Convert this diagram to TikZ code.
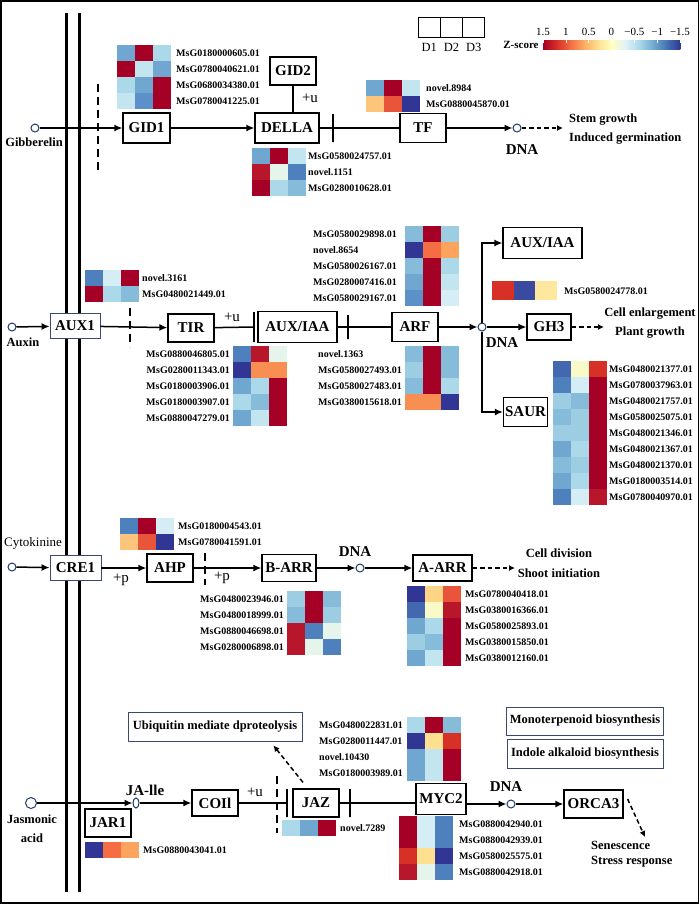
\documentclass[tikz,border=0pt]{standalone}
\usepackage{fontspec}
\setmainfont{Liberation Serif}
\usetikzlibrary{arrows.meta,shapes.geometric}

% heatmap palette
\definecolor{hmDR}{HTML}{A50026}
\definecolor{hmRD}{HTML}{B8172B}
\definecolor{hmR2}{HTML}{D73027}
\definecolor{hmOR}{HTML}{E8553B}
\definecolor{hmO2}{HTML}{F46D43}
\definecolor{hmLO}{HTML}{F98E52}
\definecolor{hmLO2}{HTML}{FCA35E}
\definecolor{hmLY}{HTML}{FDC57C}
\definecolor{hmLY2}{HTML}{FED485}
\definecolor{hmYL}{HTML}{FEE090}
\definecolor{hmYL2}{HTML}{FEE8A0}
\definecolor{hmPY}{HTML}{F8FBC8}
\definecolor{hmPG}{HTML}{E6F5EC}
\definecolor{hmPC}{HTML}{D5EEF5}
\definecolor{hmLC}{HTML}{C3E5EF}
\definecolor{hmLB}{HTML}{ABD9E9}
\definecolor{hmLB2}{HTML}{9CCDE3}
\definecolor{hmMB}{HTML}{86BBDA}
\definecolor{hmMB2}{HTML}{70A7D0}
\definecolor{hmB2}{HTML}{5C90C8}
\definecolor{hmBL}{HTML}{4F80BE}
\definecolor{hmB3}{HTML}{4468B0}
\definecolor{hmDB}{HTML}{313695}
\definecolor{hmDB2}{HTML}{3A4A9E}
% z-score bar
\definecolor{zs1}{HTML}{A50026}
\definecolor{zs2}{HTML}{D73027}
\definecolor{zs3}{HTML}{F46D43}
\definecolor{zs4}{HTML}{FDAE61}
\definecolor{zs5}{HTML}{FEE090}
\definecolor{zs6}{HTML}{FFFFBF}
\definecolor{zs7}{HTML}{E0F3F8}
\definecolor{zs8}{HTML}{ABD9E9}
\definecolor{zs9}{HTML}{74ADD1}
\definecolor{zs10}{HTML}{4575B4}
\definecolor{zs11}{HTML}{313695}
\definecolor{boxline}{HTML}{3B4A6B}
\definecolor{dnacol}{HTML}{1F3A68}

% name, x, y, label x, label anchor, rows (c1/c2/c3/label)
\newcommand{\heatmap}[6]{%
\begin{scope}[shift={(#2,#3)}]
\foreach \ca/\cb/\cc/\lab [count=\i] in {#6} {
	\fill[\ca] (0,16*\i-16) rectangle ++(18,16);
	\fill[\cb] (18,16*\i-16) rectangle ++(18,16);
	\fill[\cc] (36,16*\i-16) rectangle ++(18,16);
	\node[genelab, anchor=#5] (#1-\i) at (#4,16*\i-8) {\lab};
}
\end{scope}}

\begin{document}
\begin{tikzpicture}[x = 1pt, y = -1pt,
	box/.style = {draw, line width = 1.2pt, fill = white, inner sep = 3pt, minimum width = 46pt, minimum height = 28pt, font = {\bfseries\fontsize{15}{15}\selectfont}},
	membox/.style = {box, draw = boxline, line width = 0.9pt},
	infobox/.style = {draw = boxline, line width = 0.9pt, fill = white, font = {\bfseries\fontsize{12.5}{12.5}\selectfont}},
	link/.style = {line width = 1.5pt},
	act/.style = {link, -{Latex[length = 8pt, width = 7pt]}},
	dashact/.style = {link, dash pattern = on 4.5pt off 3pt, -{Latex[length = 6pt, width = 6pt]}},
	memb/.style = {line width = 2pt, dash pattern = on 8pt off 5pt},
	tbar/.style = {draw, line width = 1.5pt, inner sep = 0pt, minimum width = 0pt, minimum height = 28pt},
	dna/.style = {circle, draw = dnacol, line width = 1pt, fill = white, inner sep = 0pt, minimum size = 8pt},
	genelab/.style = {inner sep = 0pt, font = {\bfseries\fontsize{10}{10}\selectfont}},
	note/.style = {inner sep = 0pt, font = {\bfseries\fontsize{12.5}{19}\selectfont}},
	dnalab/.style = {inner sep = 0pt, font = {\bfseries\fontsize{15}{15}\selectfont}},
	mod/.style = {inner sep = 0pt, font = {\fontsize{15}{15}\selectfont}},
	ticklab/.style = {inner sep = 0pt, font = {\fontsize{11}{11}\selectfont}}]
\useasboundingbox (0,0) rectangle (700,906);
\draw[line width = 1.5pt] (1,1) rectangle (698.5,903);

% cell membrane
\draw[line width = 3pt] (66,13) -- (66,892);
\draw[line width = 3pt] (79,13) -- (79,892);

% legend
\foreach \d [count=\k] in {D1, D2, D3} {
	\node[draw, line width = 1pt, minimum width = 22.3pt, minimum height = 20pt, inner sep = 0pt] (leg\k) at ({418+22.3*\k-11.15},27) {};
	\node[inner sep = 0pt, font = {\fontsize{12.5}{12.5}\selectfont}] (legl\k) at ({418+22.3*\k-11.15},47) {\d};
}
\foreach \ca/\cb [count=\i] in {zs1/zs2, zs2/zs3, zs3/zs4, zs4/zs5, zs5/zs6, zs6/zs7, zs7/zs8, zs8/zs9, zs9/zs10, zs10/zs11}
	\shade[left color = \ca, right color = \cb] ({543+13.7*(\i-1)},40) rectangle ++(14,9);
\foreach \t [count=\k from 0] in {1.5, 1, 0.5, 0, −0.5, −1, −1.5} {
	\draw[white, line width = 0.6pt] ({543+22.83*\k},40) -- ++(0,2.5);
	\node[ticklab] (tick\k) at ({543+22.83*\k},32) {\t};
}
\node[inner sep = 0pt, font = {\bfseries\fontsize{11}{11}\selectfont}] (zlab) at (521,45) {Z-score};

% Gibberelin
\node[dna] (sig1) at (35,128) {};
\node[note] (gib) at (34,142) {Gibberelin};
\node[box, minimum width = 47pt, minimum height = 30pt] (GID1) at (146.5,128) {GID1};
\node[box, minimum width = 64pt, minimum height = 30pt] (DELLA) at (287,128) {DELLA};
\node[box] (GID2) at (293,71) {GID2};
\node[box, minimum height = 29pt] (TF) at (423,128) {TF};
\node[dna] (dna1) at (517,128) {};
\coordinate (out1) at (563,128);
\node[dnalab] (dnal1) at (522,150) {DNA};
\node[note, anchor = west, align = left] (res1) at (569,129.5) {Stem growth \\ Induced germination};
\node[mod] (u1) at (310,98) {+u};
\node[tbar] (bar1) at (333,128) {};

\draw[memb] (98,84) -- (98,172);
\draw[act] (sig1) -- (GID1);
\draw[act] (GID1) -- (DELLA);
\draw[link] (GID2.south) -- (GID2.south |- DELLA.north);
\draw[link] (DELLA) -- (TF);
\draw[act] (TF) -- (dna1);
\draw[dashact] (dna1) -- (out1);

\heatmap{gid1}{117}{45}{59}{west}{hmMB2/hmDR/hmLB/MsG0180000605.01,
	hmDR/hmLC/hmMB2/MsG0780040621.01,
	hmLB/hmMB2/hmDR/MsG0680034380.01,
	hmLC/hmB2/hmDR/MsG0780041225.01}
\heatmap{della}{252}{148}{56}{west}{hmMB2/hmDR/hmLC/MsG0580024757.01,
	hmRD/hmPG/hmBL/novel.1151,
	hmDR/hmLB/hmMB/MsG0280010628.01}
\heatmap{tf}{366}{80}{60}{west}{hmMB2/hmDR/hmLC/novel.8984,
	hmLY/hmOR/hmDB/MsG0880045870.01}

% Auxin
\node[dna] (sig2) at (12,327) {};
\node[note] (aux) at (23,342) {Auxin};
\node[membox, minimum width = 50pt, minimum height = 25pt] (AUX1) at (75,326) {AUX1};
\node[box] (TIR) at (191,328) {TIR};
\node[box, minimum width = 79pt, minimum height = 31pt] (AUXIAA) at (297.5,327) {AUX/IAA};
\node[box, minimum height = 29pt] (ARF) at (415,327) {ARF};
\node[dna] (dna2) at (482,327) {};
\node[box, minimum width = 79pt, minimum height = 31pt] (AUXIAA2) at (542.5,243) {AUX/IAA};
\node[box, minimum width = 44pt, minimum height = 26pt] (GH3) at (549,327) {GH3};
\node[box, minimum width = 44pt, minimum height = 29pt, inner xsep = 1.5pt] (SAUR) at (525.5,412) {SAUR};
\coordinate (out2) at (604,327);
\node[dnalab] (dnal2) at (502,343) {DNA};
\node[note, align = center] (res2) at (650,323) {Cell enlargement \\ Plant growth};
\node[mod] (u2) at (232,317) {+u};
\node[tbar, minimum height = 30pt] (bar2) at (254,327) {};
\node[tbar, minimum height = 24pt] (bar3) at (348,327) {};

\draw[memb] (130,308) -- (130,347);
\draw[act] (sig2) -- (AUX1);
\draw[act] (AUX1) -- (TIR);
\draw[link] (TIR) -- (bar2);
\draw[link] (AUXIAA) -- (ARF);
\draw[act] (ARF) -- (dna2);
\draw[act] (dna2) -- (GH3);
\draw[act] (dna2) |- (AUXIAA2);
\draw[act] (dna2) |- (SAUR);
\draw[dashact] (GH3) -- (out2);

\heatmap{aux1}{85}{270}{57}{west}{hmBL/hmPC/hmDR/novel.3161,
	hmDR/hmLB/hmMB/MsG0480021449.01}
\heatmap{tir}{233}{346}{-3}{east}{hmBL/hmRD/hmPG/MsG0880046805.01,
	hmDB/hmLO/hmLO/MsG0280011343.01,
	hmMB2/hmLB/hmDR/MsG0180003906.01,
	hmLB/hmMB/hmDR/MsG0180003907.01,
	hmMB2/hmLC/hmDR/MsG0880047279.01}
\heatmap{arfa}{405}{226}{-92}{west}{hmMB/hmDR/hmLB2/MsG0580029898.01,
	hmDB/hmO2/hmLO2/novel.8654,
	hmMB/hmDR/hmLB/MsG0580026167.01,
	hmMB2/hmDR/hmLC/MsG0280007416.01,
	hmB2/hmDR/hmPC/MsG0580029167.01}
\heatmap{arfb}{405}{346}{-87}{west}{hmMB/hmDR/hmMB/novel.1363,
	hmLB2/hmDR/hmMB/MsG0580027493.01,
	hmMB/hmDR/hmLB/MsG0580027483.01,
	hmLO/hmLO/hmDB/MsG0380015618.01}
\heatmap{saur}{553}{361}{56}{west}{hmB3/hmPY/hmR2/MsG0480021377.01,
	hmBL/hmPC/hmDR/MsG0780037963.01,
	hmLB2/hmMB/hmDR/MsG0480021757.01,
	hmMB/hmLB2/hmDR/MsG0580025075.01,
	hmLB2/hmLB2/hmDR/MsG0480021346.01,
	hmMB2/hmLB/hmDR/MsG0480021367.01,
	hmMB/hmLB2/hmDR/MsG0480021370.01,
	hmMB2/hmLB/hmDR/MsG0180003514.01,
	hmBL/hmPC/hmRD/MsG0780040970.01}
\fill[hmR2] (492,281) rectangle ++(21.7,19);
\fill[hmDB2] (513.7,281) rectangle ++(21.7,19);
\fill[hmYL2] (535.4,281) rectangle ++(21.7,19);
\node[genelab, anchor = west] (gh3-1) at (564,291) {MsG0580024778.01};

% Cytokinine
\node[inner sep = 0pt, font = {\fontsize{13}{13}\selectfont}] (cyt) at (33,543) {Cytokinine};
\node[dna] (sig3) at (12,567) {};
\node[membox, minimum width = 51pt, minimum height = 25pt] (CRE1) at (75.5,568) {CRE1};
\node[box] (AHP) at (170,568) {AHP};
\node[box, minimum width = 54pt, minimum height = 27pt] (BARR) at (289,568) {B-ARR};
\node[dna] (dna3) at (360,568) {};
\node[box, minimum width = 59pt, minimum height = 26pt] (AARR) at (442.5,568) {A-ARR};
\coordinate (out3) at (515,568);
\node[dnalab] (dnal3) at (355,552) {DNA};
\node[note, align = center, font = {\bfseries\fontsize{12.5}{20}\selectfont}] (res3) at (559,563) {Cell division \\ Shoot initiation};
\node[mod] (p1) at (121,580) {+p};
\node[mod] (p2) at (222,578) {+p};

\draw[memb] (205,553) -- (205,585);
\draw[act] (sig3) -- (CRE1);
\draw[act] (CRE1) -- (AHP);
\draw[act] (AHP) -- (BARR);
\draw[act] (BARR) -- (dna3);
\draw[act] (dna3) -- (AARR);
\draw[dashact] (AARR) -- (out3);

\heatmap{ahp}{120}{518}{58}{west}{hmBL/hmDR/hmPC/MsG0180004543.01,
	hmLY/hmOR/hmDB/MsG0780041591.01}
\heatmap{barr}{287}{591}{-3}{east}{hmLB2/hmDR/hmMB/MsG0480023946.01,
	hmMB/hmDR/hmLB2/MsG0480018999.01,
	hmRD/hmBL/hmPG/MsG0880046698.01,
	hmRD/hmPG/hmBL/MsG0280006898.01}
\heatmap{aarr}{407}{586}{58}{west}{hmDB/hmLY2/hmOR/MsG0780040418.01,
	hmB3/hmPY/hmRD/MsG0380016366.01,
	hmMB2/hmLB/hmDR/MsG0580025893.01,
	hmLB2/hmMB/hmDR/MsG0380015850.01,
	hmMB2/hmLC/hmDR/MsG0380012160.01}

% Jasmonic acid
\node[dna, minimum size = 11pt] (sig4) at (31,803) {};
\node[note, align = center] (jas) at (32,828.5) {Jasmonic \\ acid};
\node[ellipse, draw = dnacol, line width = 1pt, fill = white, inner sep = 0pt, minimum width = 6pt, minimum height = 10pt] (jaile) at (136,803) {};
\node[dnalab] (jail) at (145,790) {JA-lle};
\node[box, minimum height = 26pt] (COI) at (215,803) {COIl};
\node[box] (JAR1) at (108,823) {JAR1};
\node[box] (JAZ) at (316,803) {JAZ};
\node[box, minimum width = 50pt, minimum height = 31pt] (MYC2) at (441,799) {MYC2};
\node[dna] (dna4) at (511,804) {};
\node[box, minimum width = 59pt] (ORCA3) at (593.5,804) {ORCA3};
\coordinate (out4) at (645,837);
\node[dnalab] (dnal4) at (506,787) {DNA};
\node[note, anchor = west, align = left, font = {\bfseries\fontsize{12.5}{15.5}\selectfont}] (res4) at (591,854) {Senescence \\ Stress response};
\node[infobox, minimum width = 174pt, minimum height = 29pt] (ubq) at (215,726.5) {Ubiquitin mediate dproteolysis};
\node[infobox, minimum width = 156pt, minimum height = 28pt] (mono) at (585,721) {Monoterpenoid biosynthesis};
\node[infobox, minimum width = 156pt, minimum height = 29pt] (indo) at (585,753.5) {Indole alkaloid biosynthesis};
\node[mod] (u3) at (255,792) {+u};
\node[tbar] (bar4) at (287,803) {};
\node[tbar] (bar5) at (350,803) {};

\draw[memb] (277,776) -- (277,833);
\draw[act] (sig4) -- (jaile);
\draw[act] (jaile) -- (COI);
\draw[link] (COI) -- (bar4);
\draw[link] (JAZ) -- (JAZ -| MYC2.west);
\draw[act] (MYC2.east |- dna4) -- (dna4);
\draw[act] (dna4) -- (ORCA3);
\draw[dashact] ([shift = {(-13,-6)}]JAZ.north) -- ([shift = {(-29,4)}]ubq.south east);
\draw[dashact] ([shift = {(4,-5)}]ORCA3.east) -- (out4);

\heatmap{jar1}{85}{842}{58}{west}{hmDB/hmO2/hmLO2/MsG0880043041.01}
\heatmap{jaz}{282}{820}{58}{west}{hmLB/hmMB2/hmDR/novel.7289}
\heatmap{myca}{407}{717}{-88}{west}{hmLB/hmDR/hmMB/MsG0480022831.01,
	hmDB/hmYL/hmR2/MsG0280011447.01,
	hmMB2/hmLC/hmDR/novel.10430,
	hmMB2/hmLC/hmDR/MsG0180003989.01}
\heatmap{mycb}{399}{816}{60}{west}{hmDR/hmPC/hmBL/MsG0880042940.01,
	hmDR/hmPC/hmBL/MsG0880042939.01,
	hmR2/hmYL/hmDB/MsG0580025575.01,
	hmRD/hmPG/hmBL/MsG0880042918.01}
\end{tikzpicture}
\end{document}
